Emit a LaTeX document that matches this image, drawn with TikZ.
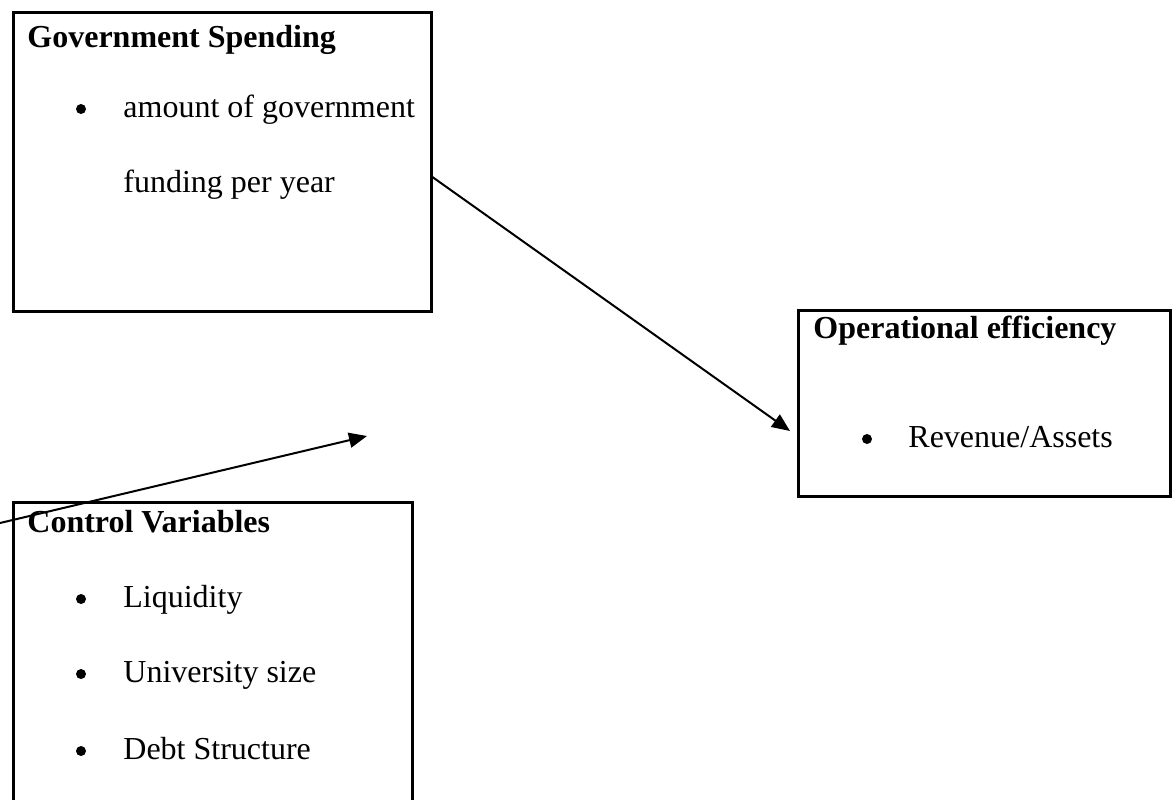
\documentclass[tikz,border=0pt]{standalone}
\usepackage{fontspec}
\setmainfont{Liberation Serif}
\usetikzlibrary{arrows.meta}
\begin{document}
\begin{tikzpicture}[x=0.5pt,y=-0.5pt,
  boxline/.style={draw=black,line width=1.4pt,rectangle,inner sep=0pt,anchor=north west},
  txt/.style={anchor=base west,inner sep=0pt,font=\fontsize{16}{19}\selectfont},
  head/.style={txt,font=\fontsize{16}{19}\selectfont\bfseries},
  bul/.style={circle,fill=black,inner sep=0pt,minimum size=5pt},
  conn/.style={draw=black,line width=1pt,-{Triangle[length=9pt,width=7.5pt]}}]
\useasboundingbox (0,0) rectangle (1176,799);
\clip (0,0) rectangle (1176,799);
% boxes
\node[boxline,minimum width=418*0.5pt,minimum height=299*0.5pt] (gov) at (12,11) {};
\node[boxline,minimum width=372*0.5pt,minimum height=186*0.5pt] (op) at (797,309) {};
\node[boxline,minimum width=399*0.5pt,minimum height=330*0.5pt] (ctrl) at (12,501) {};
% texts
\node[head] (govt) at (27,47) {Government Spending};
\node[bul] (govb) at (81,109) {};
\node[txt] (govl1) at (123,117) {amount of government};
\node[txt] (govl2) at (123,192) {funding per year};
\node[head] (opt) at (813,338) {Operational efficiency};
\node[bul] (opb) at (867,439) {};
\node[txt] (opl1) at (908,447) {Revenue/Assets};
\node[head] (ctrlt) at (27,532) {Control Variables};
\node[bul] (cb1) at (81,599) {};
\node[txt] (cl1) at (123,607) {Liquidity};
\node[bul] (cb2) at (81,674) {};
\node[txt] (cl2) at (123,682) {University size};
\node[bul] (cb3) at (81,751) {};
\node[txt] (cl3) at (123,759) {Debt Structure};
% connectors
\coordinate (a1s) at (431,176);
\coordinate (a1e) at (790,431);
\coordinate (a2s) at (0,523);
\coordinate (a2e) at (367,436);
\draw[conn] (a1s) -- (a1e);
\draw[conn] (a2s) -- (a2e);
\end{tikzpicture}
\end{document}
